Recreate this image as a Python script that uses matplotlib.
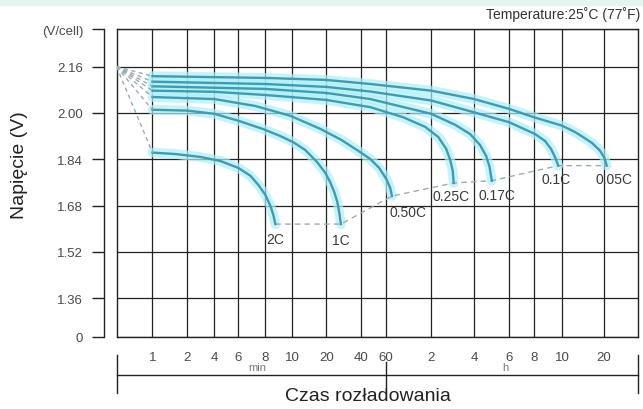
import matplotlib
matplotlib.use('Agg')
import matplotlib.pyplot as plt
from matplotlib.patches import Rectangle
import numpy as np

plt.rcParams['font.family'] = ['Liberation Sans', 'DejaVu Sans']

TEAL = '#3c9db2'
GLOW = '#aeeef7'
GRID = '#222222'
DASH = '#9aabb5'
TXT  = '#4a4a4a'

# hand-drawn time axis: minutes at each vertical gridline and where it sits (px)
KNOT_MIN = [0.5, 1, 2, 4, 6, 8, 10, 20, 40, 60, 120, 240, 360, 480, 600, 1200, 2100]
KNOT_POS = [116, 152, 187, 214, 238, 265, 292, 326, 361, 386, 431, 474, 509, 534, 562, 604, 638]

tick_min = [1, 2, 4, 6, 8, 10, 20, 40, 60, 120, 240, 360, 480, 600, 1200]
tick_lbl = ['1', '2', '4', '6', '8', '10', '20', '40', '60', '2', '4', '6', '8', '10', '20']

v_ticks = [1.36, 1.52, 1.68, 1.84, 2.00, 2.16]
V_BOTTOM, V_TOP = 1.227, 2.290      # broken-axis ends ("0" and "(V/cell)")
START_V = 2.16

rates = ['2C', '1C', '0.50C', '0.25C', '0.17C', '0.1C', '0.05C']

# discharge time (min) / voltage per cell
t_2c = [1, 1.58, 2.79, 4.43, 6, 6.82, 7.43, 8, 8.34, 8.55, 8.69]
v_2c = [1.863, 1.858, 1.848, 1.834, 1.810, 1.783, 1.751, 1.717, 1.679, 1.647, 1.616]

t_1c = [1, 2, 4, 6, 7.83, 9.06, 10.2, 13.0, 16.6, 19.6, 21.6, 23.4, 24.9, 25.9, 26.7]
v_1c = [2.011, 2.008, 1.997, 1.973, 1.944, 1.920, 1.899, 1.872, 1.830, 1.793, 1.761,
        1.727, 1.692, 1.654, 1.616]

t_050 = [1, 4, 7.19, 9.84, 17.7, 26.9, 37.7, 46.3, 53.5, 60, 63.8, 65.5]
v_050 = [2.055, 2.048, 2.024, 1.990, 1.945, 1.907, 1.869, 1.841, 1.810, 1.772, 1.741, 1.713]

t_025 = [1, 4, 8, 20, 46.3, 78, 109.3, 134.4, 152.8, 163, 169.8, 172.6]
v_025 = [2.077, 2.073, 2.062, 2.045, 2.020, 1.985, 1.952, 1.917, 1.876, 1.838, 1.800, 1.758]

t_017 = [1, 8, 20, 46.3, 120, 176.6, 225, 257, 276, 287, 294.5]
v_017 = [2.092, 2.083, 2.069, 2.048, 1.997, 1.959, 1.927, 1.889, 1.851, 1.813, 1.766]

t_010 = [1, 8, 20, 46.3, 120, 240, 360, 484, 524, 549, 567, 582]
v_010 = [2.108, 2.100, 2.090, 2.074, 2.043, 2.002, 1.968, 1.927, 1.903, 1.876, 1.848, 1.818]

t_005 = [1, 8, 20, 46.3, 120, 240, 360, 480, 600, 743, 853, 985, 1122, 1210, 1254]
v_005 = [2.127, 2.121, 2.114, 2.100, 2.077, 2.048, 2.014, 1.985, 1.956, 1.934, 1.916,
         1.896, 1.870, 1.844, 1.818]

curves = [(t_2c, v_2c), (t_1c, v_1c), (t_050, v_050), (t_025, v_025),
          (t_017, v_017), (t_010, v_010), (t_005, v_005)]

# label offsets from curve end (pixels)
lbl_off = [(0, -15), (0, -16), (16, -16), (-3, -13), (5, -14), (-2, -13), (7, -13)]

W, H = 643, 410
fig = plt.figure(figsize=(W / 100, H / 100), dpi=100)
fig.patches.append(Rectangle((0, 1 - 6 / H), 1, 6 / H, transform=fig.transFigure,
                             color='#e4f6ee', zorder=0))

ax = fig.add_axes([116.5 / W, (H - 337.7) / H, (638 - 116.5) / W, (337.7 - 30) / H])

lk = np.log10(KNOT_MIN)


def fwd(x):
    x = np.asarray(x, float)
    lx = np.log10(np.clip(x, 1e-9, None))
    return np.interp(lx, lk, KNOT_POS)


def inv(p):
    return 10 ** np.interp(np.asarray(p, float), KNOT_POS, lk)


ax.set_xscale('function', functions=(fwd, inv))
ax.set_xlim(KNOT_MIN[0], KNOT_MIN[-1])
ax.set_ylim(V_BOTTOM, V_TOP)

ax.set_xticks(tick_min, tick_lbl)
ax.xaxis.set_minor_locator(matplotlib.ticker.NullLocator())
ax.set_yticks([V_BOTTOM] + v_ticks + [V_TOP],
              ['0'] + [f'{v:.2f}' for v in v_ticks] + ['(V/cell)'])
ax.yaxis.set_minor_locator(matplotlib.ticker.NullLocator())

ax.grid(True, color=GRID, lw=0.9)
ax.set_axisbelow(True)
ax.tick_params(axis='x', length=0, pad=10, labelsize=9.5, labelcolor=TXT)
ax.tick_params(axis='y', length=9, width=1.0, pad=6, labelsize=9.5, labelcolor=TXT, color=GRID)
ax.spines['left'].set_position(('outward', 9))
for s in ['top', 'right', 'bottom', 'left']:
    ax.spines[s].set_color(GRID)
    ax.spines[s].set_linewidth(1.0)
ax.plot([0, 0], [0, 1], transform=ax.transAxes, color=GRID, lw=1.0, clip_on=False)

# glow, then curves
for t, v in curves:
    ax.plot(t, v, color=GLOW, lw=7, alpha=0.7, solid_capstyle='round', zorder=2)
for t, v in curves:
    ax.plot(t, v, color=TEAL, lw=1.7, zorder=3)
    ax.plot([KNOT_MIN[0], t[0]], [START_V, v[0]], color=DASH, lw=1.0,
            ls=(0, (3, 2.5)), zorder=3)

# end-of-discharge dashed connector
ends_t = [c[0][-1] for c in curves]
ends_v = [c[1][-1] for c in curves]
ax.plot(ends_t, ends_v, color=DASH, lw=1.0, ls=(0, (4, 3)), zorder=2.5)

for (t, v), name, off in zip(curves, rates, lbl_off):
    ax.annotate(name, (t[-1], v[-1]), xytext=off, textcoords='offset pixels',
                ha='center', va='center', fontsize=10, color='#3a3a3a', zorder=4)

# min / h bracket under the axis
tr = ax.get_xaxis_transform()
lo, hi = KNOT_MIN[0], KNOT_MIN[-1]
ax.plot([lo, hi], [-0.1245, -0.1245], transform=tr, color=GRID, lw=1.0, clip_on=False)
for xb, y0, y1 in [(lo, -0.0595, -0.183), (60, -0.082, -0.163), (hi, -0.0595, -0.183)]:
    ax.plot([xb, xb], [y0, y1], transform=tr, color=GRID, lw=1.0, clip_on=False)
ax.text(0.27, -0.098, 'min', transform=ax.transAxes, ha='center', va='center',
        fontsize=8, color='#777777')
ax.text(0.745, -0.098, 'h', transform=ax.transAxes, ha='center', va='center',
        fontsize=8, color='#777777')

fig.text(368 / W, 1 - 397 / H, 'Czas rozładowania', ha='center', va='center',
         fontsize=14, color='#222222')
fig.text(20 / W, 1 - 165 / H, 'Napięcie (V)', ha='center', va='center',
         rotation=90, fontsize=14, color='#222222')
fig.text(640 / W, 1 - 15 / H, 'Temperature:25˚C (77˚F)', ha='right', va='center',
         fontsize=10, color='#333333')

fig.savefig('out.png', dpi=100)
